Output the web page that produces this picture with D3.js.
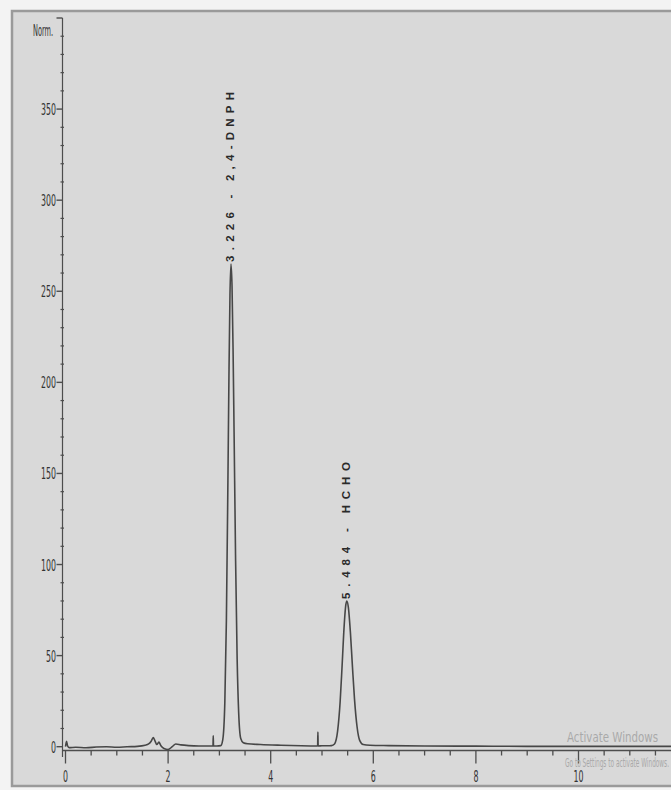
<!DOCTYPE html>
<html>
<head>
<meta charset="utf-8">
<script src="https://cdn.jsdelivr.net/npm/d3@7"></script>
<style>
  html, body { margin: 0; padding: 0; background: #f3f3f3; }
  svg { display: block; }
</style>
</head>
<body>
<script>
// ---- data ----
const times = [0, 0.02, 0.04, 0.07, 0.2, 0.4, 0.6, 0.8, 1.0, 1.2, 1.4, 1.55, 1.62, 1.67, 1.71, 1.74, 1.78, 1.82, 1.86, 1.92,
  2.0, 2.08, 2.15, 2.25, 2.4, 2.6, 2.8, 2.875, 2.88, 2.885, 2.95, 3.026, 3.066, 3.106, 3.136, 3.166, 3.186, 3.206, 3.226, 3.246,
  3.266, 3.286, 3.316, 3.346, 3.376, 3.416, 3.466, 3.55, 3.8, 4.2, 4.6, 4.915, 4.92, 4.925, 5.0, 5.1, 5.184, 5.244, 5.304, 5.354,
  5.394, 5.434, 5.464, 5.484, 5.514, 5.554, 5.594, 5.634, 5.684, 5.734, 5.804, 5.934, 6.3, 7.0, 8.0, 9.0, 10.0, 11.0, 12.0];
const signal = [0, 3, 0.5, -0.5, -0.3, -0.6, -0.2, 0, -0.3, 0, 0.2, 0.8, 1.5, 3, 5, 3.5, 1.2, 2.5, 0.5, -1,
  -1.5, 0, 1.5, 1, 0.6, 0.4, 0.4, 0.4, 6, 0.4, 0.4, 0.6, 3.9, 24.5, 69, 146, 203, 248, 265, 253,
  219, 173, 102, 48, 18.5, 4.5, 2.2, 1.6, 1.2, 0.8, 0.5, 0.4, 8, 0.4, 0.5, 0.5, 0.6, 1.5, 8.5, 24.8,
  45.7, 67.3, 77.8, 80, 76.5, 62.6, 43.7, 26, 10.8, 3.5, 1.2, 0.8, 0.6, 0.4, 0.3, 0.2, 0.2, 0.2, 0.2];
const peakTimes = [3.226, 5.484];
const peakHeights = [265, 80];
const peakNames = ["2,4-DNPH", "HCHO"];
const yTickValues = [0, 50, 100, 150, 200, 250, 300, 350];
const xTickValues = [0, 2, 4, 6, 8, 10, 12];
const yUnit = "Norm.";

// ---- layout ----
const W = 671, H = 790;
const svg = d3.select("body").append("svg").attr("width", W).attr("height", H);

svg.append("rect").attr("x", 12).attr("y", 11).attr("width", 700).attr("height", 775)
  .attr("fill", "#d9d9d9").attr("stroke", "#9a9a9a").attr("stroke-width", 2.5);

const x = d3.scaleLinear().domain([0, 12]).range([65.5, 681.1]);
const y = d3.scaleLinear().domain([0, 400]).range([746.7, 18]);
const axisColor = "#4d4d4d";
const narrow = "'Liberation Sans Narrow','DejaVu Sans Condensed','Liberation Sans',Arial,sans-serif";

// y axis
const yAxisX = 62.5;
svg.append("line").attr("x1", yAxisX).attr("x2", yAxisX).attr("y1", y(400)).attr("y2", 757)
  .attr("stroke", axisColor).attr("stroke-width", 1.2);
const yMinor = d3.range(0, 401, 10).filter(v => v % 50 !== 0);
svg.selectAll(".ymin").data(yMinor).enter().append("line")
  .attr("x1", yAxisX - 2).attr("x2", yAxisX + 1.5).attr("y1", d => y(d)).attr("y2", d => y(d))
  .attr("stroke", axisColor).attr("stroke-width", 1.2);
svg.selectAll(".ymaj").data(yTickValues.concat([400])).enter().append("line")
  .attr("x1", yAxisX - 6).attr("x2", yAxisX).attr("y1", d => y(d)).attr("y2", d => y(d))
  .attr("stroke", axisColor).attr("stroke-width", 1.4);
svg.selectAll(".ylab").data(yTickValues).enter().append("text")
  .attr("x", 56).attr("y", d => y(d) + 6)
  .attr("text-anchor", "end").attr("font-family", narrow).attr("font-size", 16)
  .attr("textLength", d => String(d).length * 5).attr("lengthAdjust", "spacingAndGlyphs")
  .attr("fill", "#333").text(d => d);
svg.append("text").attr("x", 33).attr("y", 36).attr("font-family", narrow).attr("font-size", 16)
  .attr("textLength", 20).attr("lengthAdjust", "spacingAndGlyphs").attr("fill", "#333").text(yUnit);

// x axis
const xAxisY = 750.5;
svg.append("line").attr("x1", yAxisX).attr("x2", W).attr("y1", xAxisY).attr("y2", xAxisY)
  .attr("stroke", axisColor).attr("stroke-width", 1.5);
const xMinor = d3.range(0, 12.01, 0.5).filter(v => v % 2 !== 0);
svg.selectAll(".xmin").data(xMinor).enter().append("line")
  .attr("x1", d => x(d)).attr("x2", d => x(d)).attr("y1", xAxisY).attr("y2", xAxisY + 5)
  .attr("stroke", axisColor).attr("stroke-width", 1.3);
svg.selectAll(".xmaj").data(xTickValues).enter().append("line")
  .attr("x1", d => x(d)).attr("x2", d => x(d)).attr("y1", xAxisY).attr("y2", xAxisY + 13)
  .attr("stroke", axisColor).attr("stroke-width", 1.3);
svg.selectAll(".xlab").data(xTickValues).enter().append("text")
  .attr("x", d => x(d)).attr("y", 782)
  .attr("text-anchor", "middle").attr("font-family", narrow).attr("font-size", 16)
  .attr("textLength", d => String(d).length * 5).attr("lengthAdjust", "spacingAndGlyphs")
  .attr("fill", "#333").text(d => d);

// trace
const pts = times.map((t, i) => [t, signal[i]]);
svg.append("path").datum(pts)
  .attr("d", d3.line().x(d => x(d[0])).y(d => y(d[1])).curve(d3.curveMonotoneX))
  .attr("fill", "none").attr("stroke", "#474747").attr("stroke-width", 1.6);

// peak labels
const labelLen = [170, 137];
peakTimes.forEach((t, i) => {
  const lx = x(t) + 3, ly = y(peakHeights[i]) - 2;
  svg.append("text")
    .attr("transform", `translate(${lx},${ly}) rotate(-90)`)
    .attr("font-family", "'Liberation Sans',Arial,sans-serif").attr("font-size", 11.5)
    .attr("font-weight", "bold")
    .attr("textLength", labelLen[i]).attr("lengthAdjust", "spacing")
    .attr("fill", "#2a2a2a")
    .text(`${t.toFixed(3)} - ${peakNames[i]}`);
});

// watermark
svg.append("text").attr("x", 567).attr("y", 742).attr("font-family", narrow).attr("font-size", 14)
  .attr("textLength", 91).attr("lengthAdjust", "spacingAndGlyphs").attr("fill", "#a9a9a9").text("Activate Windows");
svg.append("text").attr("x", 565).attr("y", 767).attr("font-family", narrow).attr("font-size", 12)
  .attr("textLength", 104).attr("lengthAdjust", "spacingAndGlyphs").attr("fill", "#a9a9a9").text("Go to Settings to activate Windows.");
</script>
</body>
</html>
